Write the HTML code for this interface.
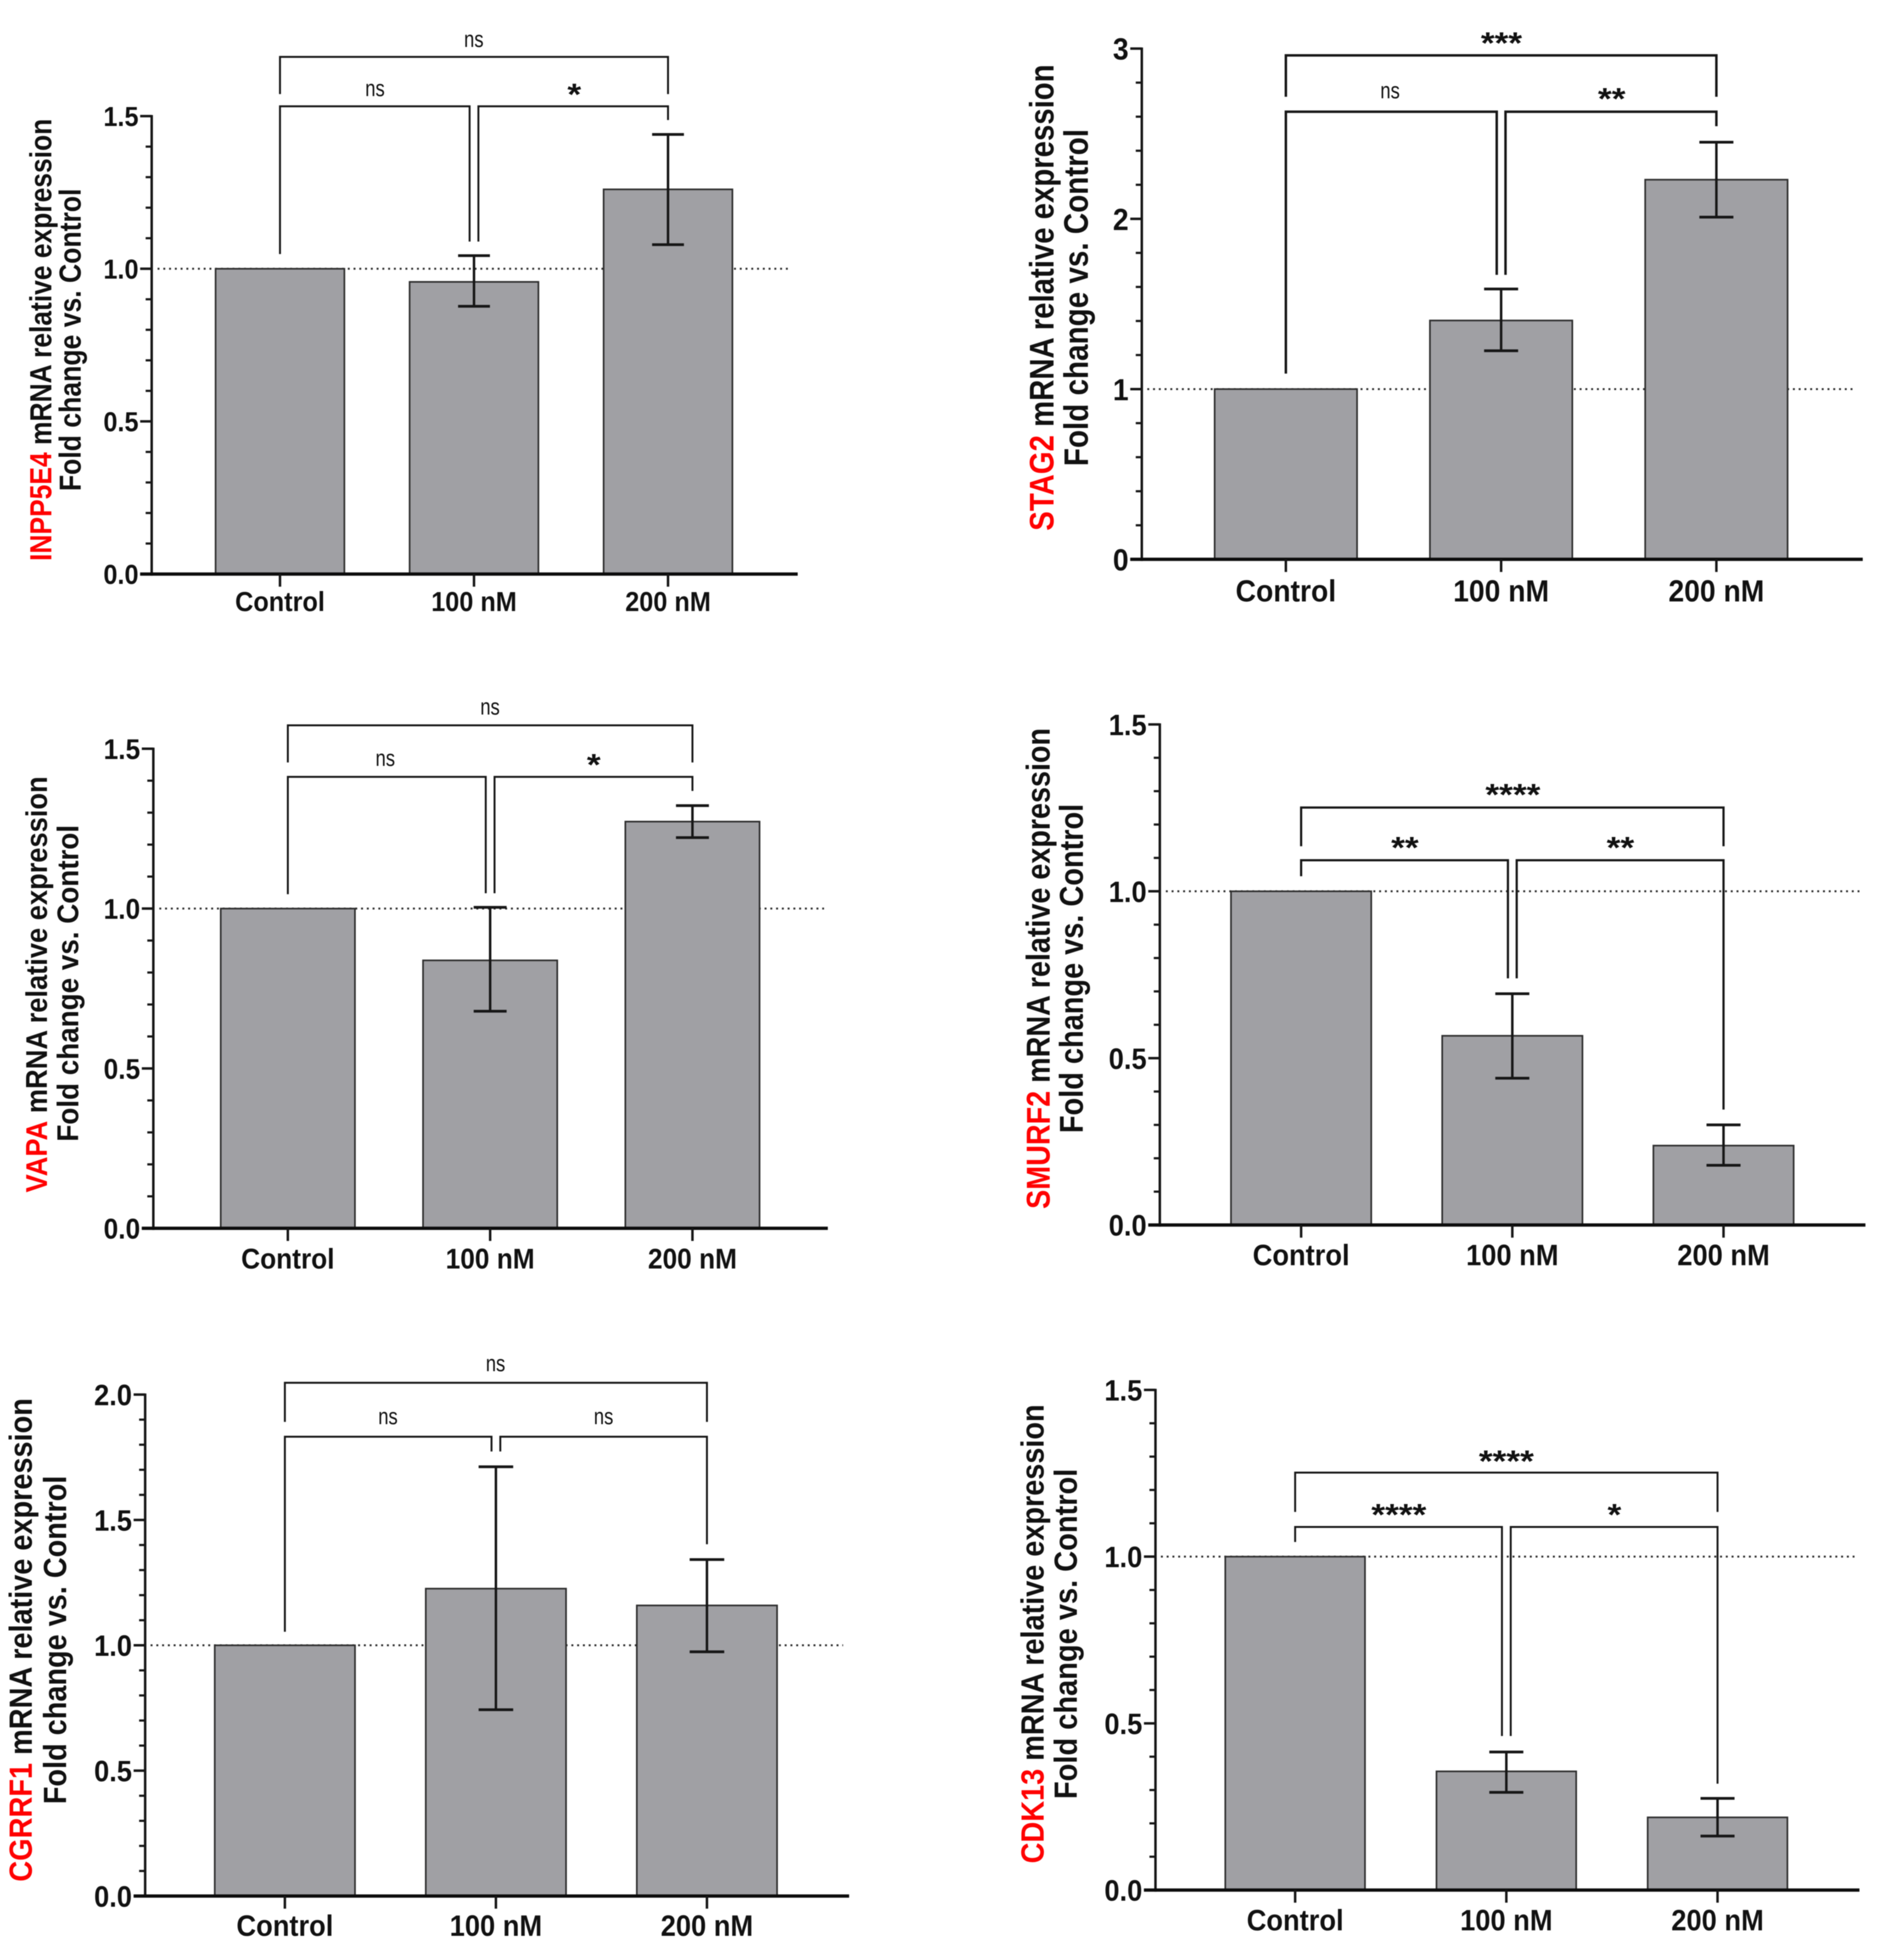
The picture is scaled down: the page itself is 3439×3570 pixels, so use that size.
<!DOCTYPE html>
<html lang="en">
<head>
<meta charset="utf-8">
<title>mRNA relative expression panels</title>
<style>
html,body{margin:0;padding:0;background:#fff;}
svg{display:block;filter:blur(0.9px);}
text{font-family:"Liberation Sans",sans-serif;fill:#111;}
</style>
</head>
<body>
<svg id="fig" width="3439" height="3570" viewBox="0 0 3439 3570" xmlns="http://www.w3.org/2000/svg">
<rect x="0" y="0" width="3439" height="3570" fill="#ffffff"/>
</svg>
<script>
// ---------- shared categories ----------
const categories = ['Control', '100 nM', '200 nM'];

// ---------- INPP5E4 ----------
const inpp5e4Means = [1.0, 0.957, 1.26];
const inpp5e4Upper = [1.0, 1.043, 1.44];
const inpp5e4Lower = [1.0, 0.877, 1.079];
const inpp5e4Ticks = ['0.0', '0.5', '1.0', '1.5'];
const inpp5e4Sig = ['ns', 'ns', '*'];

// ---------- STAG2 ----------
const stag2Means = [1.0, 1.403, 2.23];
const stag2Upper = [1.0, 1.588, 2.45];
const stag2Lower = [1.0, 1.225, 2.01];
const stag2Ticks = ['0', '1', '2', '3'];
const stag2Sig = ['***', 'ns', '**'];

// ---------- VAPA ----------
const vapaMeans = [1.0, 0.838, 1.272];
const vapaUpper = [1.0, 1.004, 1.322];
const vapaLower = [1.0, 0.679, 1.222];
const vapaTicks = ['0.0', '0.5', '1.0', '1.5'];
const vapaSig = ['ns', 'ns', '*'];

// ---------- SMURF2 ----------
const smurf2Means = [1.0, 0.567, 0.238];
const smurf2Upper = [1.0, 0.693, 0.30];
const smurf2Lower = [1.0, 0.44, 0.179];
const smurf2Ticks = ['0.0', '0.5', '1.0', '1.5'];
const smurf2Sig = ['****', '**', '**'];

// ---------- CGRRF1 ----------
const cgrrf1Means = [1.0, 1.226, 1.159];
const cgrrf1Upper = [1.0, 1.712, 1.342];
const cgrrf1Lower = [1.0, 0.743, 0.974];
const cgrrf1Ticks = ['0.0', '0.5', '1.0', '1.5', '2.0'];
const cgrrf1Sig = ['ns', 'ns', 'ns'];

// ---------- CDK13 ----------
const cdk13Means = [1.0, 0.356, 0.218];
const cdk13Upper = [1.0, 0.414, 0.275];
const cdk13Lower = [1.0, 0.293, 0.162];
const cdk13Ticks = ['0.0', '0.5', '1.0', '1.5'];
const cdk13Sig = ['****', '****', '*'];

// ---------- comparison bracket levels, in axis units ----------
// [top bar, top bar drop, lower bar, left drop, middle drop, right drop]
const inpp5e4Brackets = [1.694, 1.572, 1.532, 1.048, 1.089, 1.487];
const stag2Brackets = [2.96, 2.717, 2.629, 1.091, 1.671, 2.544];
const vapaBrackets = [1.573, 1.457, 1.412, 1.045, 1.048, 1.368];
const smurf2Brackets = [1.251, 1.135, 1.093, 1.045, 0.739, 0.346];
const cgrrf1Brackets = [2.047, 1.891, 1.832, 1.054, 1.773, 1.403];
const cdk13Brackets = [1.252, 1.134, 1.089, 1.044, 0.462, 0.319];

// ---------- panel definitions ----------
const panels = [
  {id:'inpp5e4', gene:'INPP5E4', means:inpp5e4Means, upper:inpp5e4Upper, lower:inpp5e4Lower, ticks:inpp5e4Ticks, sig:inpp5e4Sig, brackets:inpp5e4Brackets,
   frame:{axisX:276.3, base:1045.6, unit:556.1, endX:1453, cat0:510, step:353.4, barW:234.6, dot0:287, dot1:1442, cap:58, font:50, bw:3.5,
          labelY:1113, t1:{x:93.4,y:619,s:56,k:.859}, t2:{x:147,y:619,s:56,k:.864},
          sigY:[74.6,164,165], sigX:[863,683,1046]}},
  {id:'stag2', gene:'STAG2', means:stag2Means, upper:stag2Upper, lower:stag2Lower, ticks:stag2Ticks, sig:stag2Sig, brackets:stag2Brackets,
   frame:{axisX:2079.8, base:1018.8, unit:310.1, endX:3393, cat0:2342.2, step:392.1, barW:259.4, dot0:2089.8, dot1:3378, cap:62, font:56, bw:4.5,
          labelY:1095.4, t1:{x:1918.8,y:542,s:62,k:.862}, t2:{x:1981.4,y:542,s:62,k:.87},
          sigY:[71.6,168,173], sigX:[2734.9,2532,2935.7]}},
  {id:'vapa', gene:'VAPA', means:vapaMeans, upper:vapaUpper, lower:vapaLower, ticks:vapaTicks, sig:vapaSig, brackets:vapaBrackets,
   frame:{axisX:279.3, base:2237.3, unit:582.4, endX:1507.9, cat0:524.3, step:368.5, barW:244.5, dot0:290.2, dot1:1501, cap:60, font:52, bw:3.5,
          labelY:2310.3, t1:{x:85.5,y:1793,s:55,k:.903}, t2:{x:142.6,y:1791,s:55,k:.921},
          sigY:[1290.5,1384,1386], sigX:[892.6,701.8,1081.5]}},
  {id:'smurf2', gene:'SMURF2', means:smurf2Means, upper:smurf2Upper, lower:smurf2Lower, ticks:smurf2Ticks, sig:smurf2Sig, brackets:smurf2Brackets,
   frame:{axisX:2112.6, base:2231.3, unit:607.9, endX:3397.9, cat0:2370, step:384.7, barW:255.5, dot0:2123.6, dot1:3387, cap:62, font:54, bw:4,
          labelY:2304.3, t1:{x:1911.8,y:1764,s:60,k:.872}, t2:{x:1972.5,y:1764,s:60,k:.878},
          sigY:[1440.7,1537.2,1537.2], sigX:[2755.7,2559,2951.6]}},
  {id:'cgrrf1', gene:'CGRRF1', means:cgrrf1Means, upper:cgrrf1Upper, lower:cgrrf1Lower, ticks:cgrrf1Ticks, sig:cgrrf1Sig, brackets:cgrrf1Brackets,
   frame:{axisX:264.4, base:3453.5, unit:456.7, endX:1546.7, cat0:518.9, step:384.4, barW:255.5, dot0:274.3, dot1:1535.7, cap:63, font:54, bw:3.5,
          labelY:3526, t1:{x:58.1,y:2987,s:58,k:.907}, t2:{x:120.3,y:2987,s:58,k:.906},
          sigY:[2486.5,2583,2583], sigX:[902.6,706.7,1099.4]}},
  {id:'cdk13', gene:'CDK13', means:cdk13Means, upper:cdk13Upper, lower:cdk13Lower, ticks:cdk13Ticks, sig:cdk13Sig, brackets:cdk13Brackets,
   frame:{axisX:2104.7, base:3442.6, unit:607.3, endX:3387, cat0:2359.1, step:384.7, barW:254.5, dot0:2114.6, dot1:3378, cap:62, font:54, bw:3.5,
          labelY:3516.2, t1:{x:1900.9,y:2976,s:58,k:.906}, t2:{x:1961.5,y:2976,s:58,k:.911},
          sigY:[2654.6,2752,2752], sigX:[2743.8,2548,2940.6]}}
];

const NS = 'http://www.w3.org/2000/svg';
const fig = document.getElementById('fig');

function mk(tag, attrs, parent) {
  const el = document.createElementNS(NS, tag);
  for (const key in attrs) el.setAttribute(key, attrs[key]);
  parent.appendChild(el);
  return el;
}

panels.forEach(function (p) {
  const f = p.frame;
  const yScale = function (v) { return f.base - v * f.unit; };
  const xScale = function (i) { return f.cat0 + i * f.step; };
  const ink = '#161616';

  const g = mk('g', {}, fig);
  
  

  // reference line at fold change 1
  const dotted = mk('line', {x1:f.dot0, x2:f.dot1, y1:yScale(1), y2:yScale(1), stroke:'#2b2b2b', 'stroke-width':3.5, 'stroke-dasharray':'3.5 7'}, g);
  
  

  // bars
  p.means.forEach(function (v, i) {
    const bar = mk('rect', {x:xScale(i) - f.barW / 2, y:yScale(v), width:f.barW, height:f.base - yScale(v), fill:'#a0a0a4', stroke:'#2e2e2e', 'stroke-width':3}, g);
    
    
  });

  // error bars
  p.means.forEach(function (v, i) {
    if (p.upper[i] === p.lower[i]) return;
    const cx = xScale(i), top = yScale(p.upper[i]), bot = yScale(p.lower[i]);
    const stem = mk('line', {x1:cx, x2:cx, y1:top, y2:bot, stroke:ink, 'stroke-width':4.5}, g);
    
    
    const capTop = mk('line', {x1:cx - f.cap / 2, x2:cx + f.cap / 2, y1:top, y2:top, stroke:ink, 'stroke-width':5}, g);
    
    
    const capBot = mk('line', {x1:cx - f.cap / 2, x2:cx + f.cap / 2, y1:bot, y2:bot, stroke:ink, 'stroke-width':5}, g);
    
    
  });

  // y axis
  const vals = p.ticks.map(parseFloat);
  const yTop = vals[vals.length - 1];
  const yAxis = mk('line', {x1:f.axisX, x2:f.axisX, y1:yScale(yTop) - 2, y2:f.base + 3, stroke:ink, 'stroke-width':4.5}, g);
  
  

  vals.forEach(function (v, i) {
    const ty = yScale(v);
    const tick = mk('line', {x1:f.axisX - 21, x2:f.axisX, y1:ty, y2:ty, stroke:ink, 'stroke-width':4.5}, g);
    
    
    const lab = mk('text', {transform:'translate(' + (f.axisX - 24) + ',' + (ty + f.font * 0.36) + ') scale(.92,1)', 'text-anchor':'end', 'font-size':f.font, 'font-weight':'bold'}, g);
    lab.textContent = p.ticks[i];
    
    
    if (i < vals.length - 1) {
      const stepV = (vals[i + 1] - v) / 5;
      for (let m = 1; m < 5; m++) {
        const my = yScale(v + stepV * m);
        const minor = mk('line', {x1:f.axisX - 11, x2:f.axisX, y1:my, y2:my, stroke:ink, 'stroke-width':4}, g);
        
        
      }
    }
  });

  // x axis
  const xAxis = mk('line', {x1:f.axisX - 21, x2:f.endX, y1:f.base, y2:f.base, stroke:'#0c0c0c', 'stroke-width':6}, g);
  
  

  categories.forEach(function (c, i) {
    const cx = xScale(i);
    const tick = mk('line', {x1:cx, x2:cx, y1:f.base, y2:f.base + 23, stroke:ink, 'stroke-width':4.5}, g);
    
    
    const lab = mk('text', {transform:'translate(' + cx + ',' + f.labelY + ') scale(.92,1)', 'text-anchor':'middle', 'font-size':f.font, 'font-weight':'bold'}, g);
    lab.textContent = c;
    
    
  });

  // comparison brackets
  const b = p.brackets;
  const gap = 8;
  const x0 = xScale(0), x1 = xScale(1), x2 = xScale(2);
  const pathTop = 'M' + x0 + ' ' + yScale(b[1]) + 'V' + yScale(b[0]) + 'H' + x2 + 'V' + yScale(b[1]);
  const pathLeft = 'M' + x0 + ' ' + yScale(b[3]) + 'V' + yScale(b[2]) + 'H' + (x1 - gap) + 'V' + yScale(b[4]);
  const pathRight = 'M' + (x1 + gap) + ' ' + yScale(b[4]) + 'V' + yScale(b[2]) + 'H' + x2 + 'V' + yScale(b[5]);

  const brTop = mk('path', {d:pathTop, fill:'none', stroke:ink, 'stroke-width':f.bw}, g);
  
  
  const brLeft = mk('path', {d:pathLeft, fill:'none', stroke:ink, 'stroke-width':f.bw}, g);
  
  
  const brRight = mk('path', {d:pathRight, fill:'none', stroke:ink, 'stroke-width':f.bw}, g);
  
  

  // significance labels
  p.sig.forEach(function (s, i) {
    const isNs = s === 'ns';
    const size = isNs ? 42 : 56;
    const dy = isNs ? 11 : 26;
    const sx = isNs ? 0.8 : 1.15;
    const sl = mk('text', {transform:'translate(' + f.sigX[i] + ',' + (f.sigY[i] + dy) + ') scale(' + sx + ',1)', 'text-anchor':'middle', 'font-size':size, 'font-weight':isNs ? 'normal' : 'bold'}, g);
    sl.textContent = s;
    
    
  });

  // y axis title, two rotated lines
  const t1 = mk('text', {transform:'translate(' + f.t1.x + ',' + f.t1.y + ') rotate(-90) scale(' + f.t1.k + ',1)', 'text-anchor':'middle', 'font-size':f.t1.s, 'font-weight':'bold'}, g);
  
  
  const geneSpan = mk('tspan', {style:'fill:#ff0000'}, t1);
  geneSpan.textContent = p.gene;
  
  
  const restSpan = mk('tspan', {}, t1);
  restSpan.textContent = ' mRNA relative expression';
  
  

  const t2 = mk('text', {transform:'translate(' + f.t2.x + ',' + f.t2.y + ') rotate(-90) scale(' + f.t2.k + ',1)', 'text-anchor':'middle', 'font-size':f.t2.s, 'font-weight':'bold'}, g);
  t2.textContent = 'Fold change vs. Control';
  
  
});
</script>
</body>
</html>
